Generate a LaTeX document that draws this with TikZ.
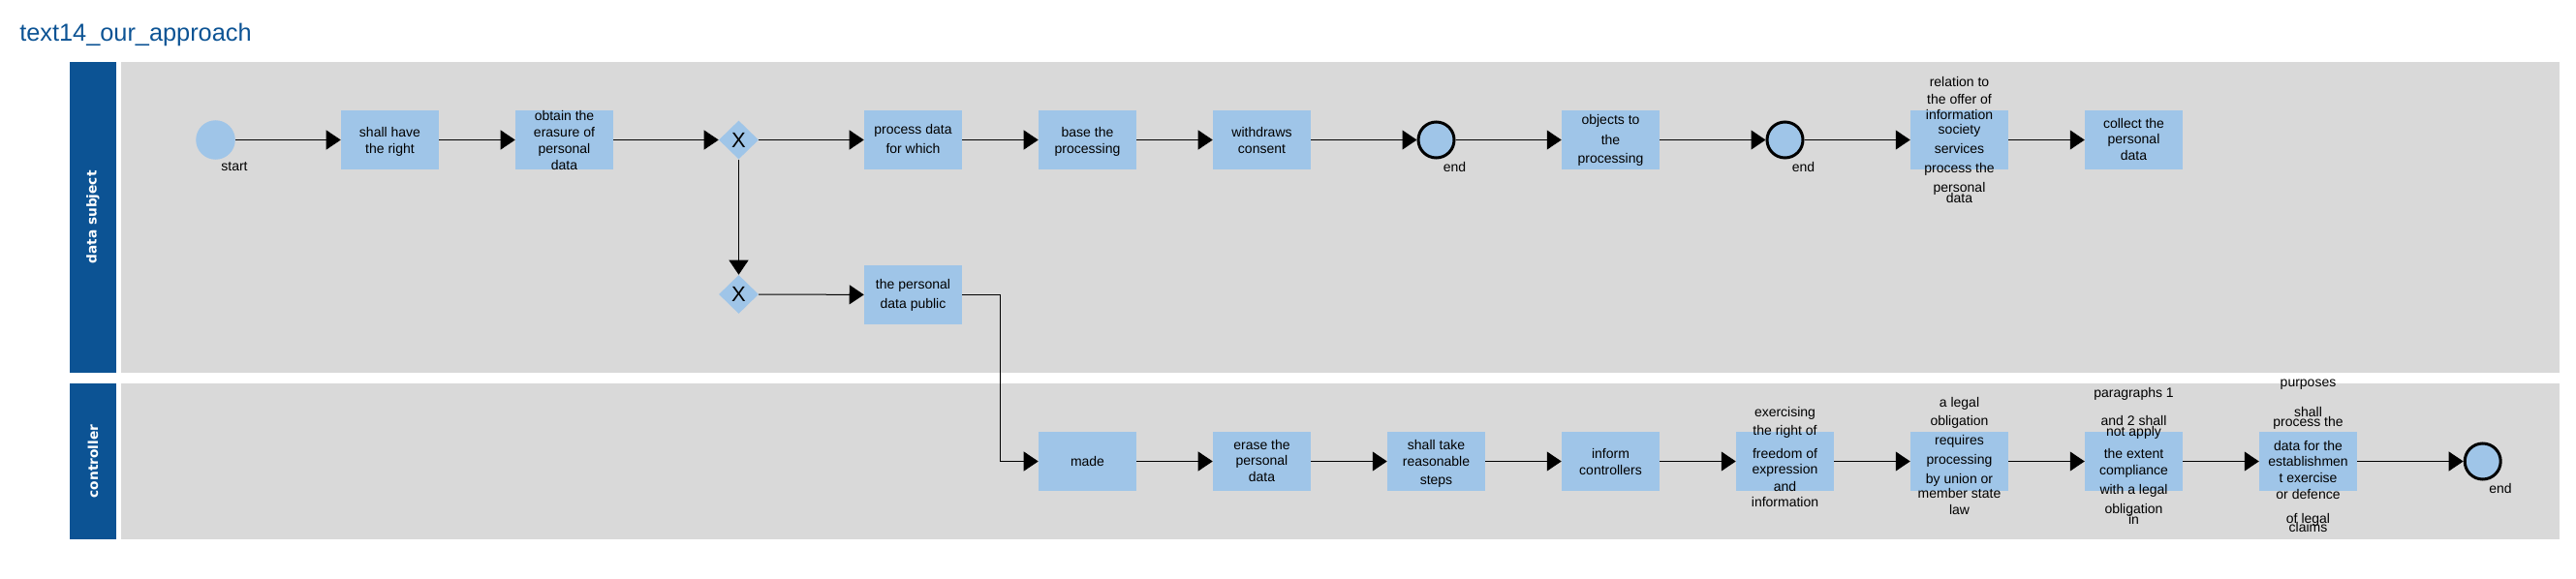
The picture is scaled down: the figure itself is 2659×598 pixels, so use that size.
\documentclass[tikz,border=0pt]{standalone}
\usepackage{fontspec}
\setmainfont{Liberation Sans}
\newfontfamily\hdrfont{DejaVu Sans}
\usetikzlibrary{arrows.meta,shapes.geometric}
\definecolor{hdrblue}{RGB}{12,83,148}
\definecolor{boxblue}{RGB}{159,197,232}
\definecolor{lanegray}{RGB}{217,217,217}
\newcommand\bt[2]{\smash{\raisebox{#1}{\begin{tabular}[t]{@{}c@{}}#2\end{tabular}}}}
\tikzset{
 task/.style={rectangle, fill=boxblue, inner sep=0pt, minimum width=75.75pt, minimum height=45.75pt, font=\fontsize{10.5pt}{12.75pt}\selectfont},
 startev/.style={circle, fill=boxblue, inner sep=0pt, minimum size=30.4pt},
 endev/.style={circle, fill=boxblue, draw=black, line width=2.25pt, inner sep=0pt, minimum size=27.75pt},
 gw/.style={diamond, fill=boxblue, inner sep=0pt, minimum width=30.75pt, minimum height=30pt, font=\fontsize{16.5pt}{18pt}\selectfont},
 evlabel/.style={font=\fontsize{10.5pt}{12.75pt}\selectfont, inner sep=0pt},
 flow/.style={line width=0.75pt, -{Triangle[length=11.25pt,width=15pt]}},
 lanehdr/.style={fill=hdrblue, text=white, inner sep=0pt, minimum width=36pt, font=\hdrfont\bfseries\fontsize{10.3pt}{12pt}\selectfont},
 lanebody/.style={fill=lanegray, inner sep=0pt, minimum width=1887.75pt},
}
\begin{document}
\begin{tikzpicture}[x=0.75pt,y=-0.75pt]
\useasboundingbox (0,0) rectangle (2659,598);
% title
\node[anchor=base west, inner sep=0pt, text=hdrblue, font=\fontsize{19pt}{22pt}\selectfont] (title) at (20,42.7) {text14\_our\_approach};
% lanes
\node[lanebody, minimum height=240.75pt] (lane1) at (1383.5,224.5) {};
\node[lanehdr, minimum height=240.75pt] (hdr1) at (96,224.5) {\rotatebox{90}{data subject}};
\node[lanebody, minimum height=120.75pt] (lane2) at (1383.5,476.5) {};
\node[lanehdr, minimum height=120.75pt] (hdr2) at (96,476.5) {\rotatebox{90}{controller}};
% lane 1
\node[startev] (s) at (222.5,144.5) {};
\node[evlabel] (slab) at (242,171.7) {start};
\node[task] (b1) at (402.5,144.5) {\bt{2.4pt}{shall have\\the right}};
\node[task] (b2) at (582.5,144.5) {\bt{14.85pt}{obtain the\\erasure of\\personal\\data}};
\node[gw] (g1) at (762.5,144.5) {X};
\node[task] (b3) at (942.5,144.5) {\bt{4.65pt}{process data\\[2.25pt]for which}};
\node[task] (b4) at (1122.5,144.5) {\bt{2.4pt}{base the\\processing}};
\node[task] (b5) at (1302.5,144.5) {\bt{2.4pt}{withdraws\\consent}};
\node[endev] (e1) at (1482.5,144.5) {};
\node[evlabel] (e1lab) at (1501.5,172.3) {end};
\node[task] (b6) at (1662.5,144.5) {\bt{12.15pt}{objects to\\[2.8pt]the\\[1.7pt]processing}};
\node[endev] (e2) at (1842.5,144.5) {};
\node[evlabel] (e2lab) at (1861.5,172.3) {end};
\node[task] (b7) at (2022.5,144.5) {\bt{40.9pt}{relation to\\[0.2pt]the offer of\\[-0.2pt]information\\[-2pt]society\\[2.25pt]services\\[2.25pt]process the\\[2.25pt]personal\\[-4.7pt]data}};
\node[task] (b8) at (2202.5,144.5) {\bt{9.15pt}{collect the\\[-0.75pt]personal\\[0.3pt]data}};
\node[gw] (g2) at (762.5,304) {X};
\node[task] (b9) at (942.5,304.5) {\bt{4.65pt}{the personal\\[2.25pt]data public}};
% lane 2
\node[task] (c1) at (1122.5,476.5) {\bt{-3.6pt}{made}};
\node[task] (c2) at (1302.5,476.5) {\bt{8.85pt}{erase the\\[-0.75pt]personal\\[0.2pt]data}};
\node[task] (c3) at (1482.5,476.5) {\bt{8.85pt}{shall take\\[-0.3pt]reasonable\\[1.8pt]steps}};
\node[task] (c4) at (1662.5,476.5) {\bt{2.4pt}{inform\\[0.3pt]controllers}};
\node[task] (c5) at (1842.5,476.5) {\bt{34.35pt}{exercising\\[1.7pt]the right of\\[4.7pt]freedom of\\[-0.2pt]expression\\[0.2pt]and\\[-0.2pt]information}};
\node[task] (c6) at (2022.5,476.5) {\bt{41.85pt}{a legal\\[1.7pt]obligation\\[2.25pt]requires\\[2.25pt]processing\\[2.25pt]by union or\\[-1.5pt]member state\\[-0.2pt]law}};
\node[task] (c7) at (2202.5,476.5) {\bt{49.35pt}{paragraphs 1\\[8.5pt]and 2 shall\\[-4pt]not apply\\[4.2pt]the extent\\[-0.2pt]compliance\\[2.25pt]with a legal\\[2.25pt]obligation\\[-4pt]in}};
\node[task] (c8) at (2382.5,476.5) {\bt{58.1pt}{purposes\\[11pt]shall\\[-5.25pt]process the\\[5.5pt]data for the\\[-0.2pt]establishmen\\[-0.3pt]t exercise\\[-0.2pt]or defence\\[6.5pt]of legal\\[-6.5pt]claims}};
\node[endev] (e3) at (2562.7,476.5) {};
\node[evlabel] (e3lab) at (2581,504.3) {end};
% flows
\draw[flow] (s) -- (b1);
\draw[flow] (b1) -- (b2);
\draw[flow] (b2) -- (g1);
\draw[flow] (g1) -- (b3);
\draw[flow] (b3) -- (b4);
\draw[flow] (b4) -- (b5);
\draw[flow] (b5) -- (e1);
\draw[flow] (e1) -- (b6);
\draw[flow] (b6) -- (e2);
\draw[flow] (e2) -- (b7);
\draw[flow] (b7) -- (b8);
\draw[flow] (g1) -- (g2);
\draw[flow] (g2) -- (b9);
\draw[flow] (b9.east) -- ++(39.5,0) |- (c1.west);
\draw[flow] (c1) -- (c2);
\draw[flow] (c2) -- (c3);
\draw[flow] (c3) -- (c4);
\draw[flow] (c4) -- (c5);
\draw[flow] (c5) -- (c6);
\draw[flow] (c6) -- (c7);
\draw[flow] (c7) -- (c8);
\draw[flow] (c8) -- (e3);
\end{tikzpicture}
\end{document}
